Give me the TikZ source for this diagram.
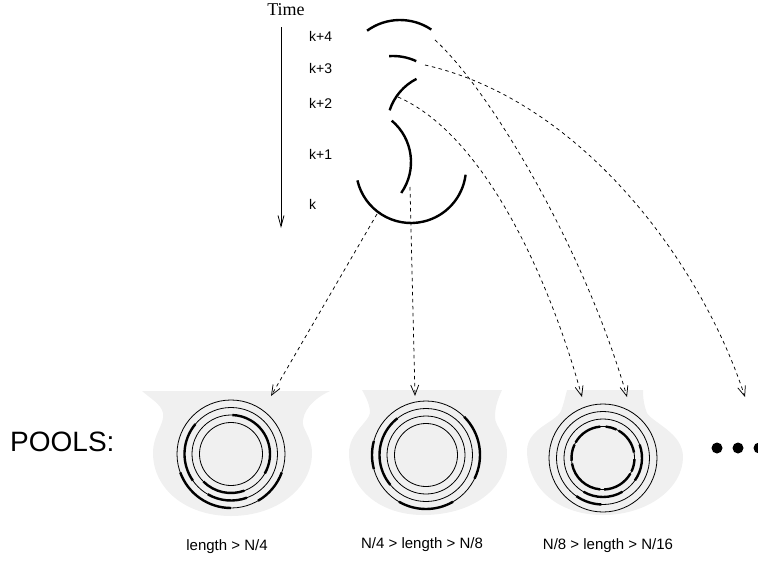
\documentclass[tikz,border=0pt]{standalone}
\usepackage{fontspec}
\setmainfont{Liberation Sans}
\newfontfamily\timesface{Liberation Serif}
\usetikzlibrary{arrows.meta}

\begin{document}
\begin{tikzpicture}[x=1pt, y=1pt,
    seg/.style={line width=2.4pt},
    ring/.style={line width=0.8pt},
    link/.style={dash pattern=on 3.5pt off 3.5pt, line width=0.75pt,
        -{Straight Barb[length=10pt,width=8pt]}},
    pool/.style={fill=black!6},
    klbl/.style={font=\fontsize{14}{16}\selectfont, anchor=base west, inner sep=0pt},
    rng/.style={font=\fontsize{15}{18}\selectfont, anchor=base}
]
    \useasboundingbox (0,0) rectangle (758,-560);

    % time axis
    \node[font=\timesface\fontsize{18}{20}\selectfont, anchor=base] (time) at (286,-15) {Time};
    \coordinate (ttop) at (281,-27);
    \coordinate (tbot) at (281,-228);
    \draw[line width=0.8pt, -{Straight Barb[length=11pt,width=6pt]}] (ttop) -- (tbot);

    \node[klbl] (l4) at (309,-41) {k+4};
    \node[klbl] (l3) at (309,-73) {k+3};
    \node[klbl] (l2) at (309,-108) {k+2};
    \node[klbl] (l1) at (309,-159) {k+1};
    \node[klbl] (l0) at (309,-209) {k};

    % arcs arriving over time
    \draw[seg] (400,-76) ++(56:56) arc[start angle=56, end angle=126, radius=56];
    \draw[seg] (393,-111) ++(65:55) arc[start angle=65, end angle=94, radius=55];
    \draw[seg] (441,-127) ++(117:54) arc[start angle=117, end angle=162, radius=54];
    \draw[seg] (357,-162) ++(-35:54) arc[start angle=-35, end angle=50, radius=54];
    \draw[seg] (411,-168) ++(193:55) arc[start angle=193, end angle=353, radius=55];

    % pool 1
    \begin{scope}[shift={(231,-454)}]
        \fill[pool] (-89,63) .. controls (-80,55) and (-70,50) .. (-68,41)
            .. controls (-66,30) and (-78,20) .. (-78,1)
            .. controls (-78,-35) and (-45,-62) .. (0,-62)
            .. controls (45,-62) and (81,-35) .. (81,1)
            .. controls (81,18) and (70,25) .. (72,34)
            .. controls (74,48) and (88,58) .. (99,63) -- cycle;
        \foreach \r in {54,46.5,39,31.5}
            \draw[ring] (0,0) circle (\r);
        \foreach \a/\b/\r in {200/270/54, 300/340/54, 140/215/46.5, 240/290/46.5,
                              -30/88/39, 225/290/39}
            \draw[seg] (\a:\r) arc[start angle=\a, end angle=\b, radius=\r];
    \end{scope}
    \coordinate (in1) at (271,-396);

    % pool 2
    \begin{scope}[shift={(426,-455)}]
        \fill[pool] (-64,65) .. controls (-60,58) and (-56,50) .. (-56,42)
            .. controls (-58,32) and (-77,22) .. (-77,2)
            .. controls (-77,-35) and (-45,-60) .. (-3,-60)
            .. controls (45,-60) and (81,-35) .. (81,2)
            .. controls (81,20) and (69,28) .. (69,38)
            .. controls (69,50) and (73,58) .. (76,65) -- cycle;
        \foreach \r in {54,46.5,39,31.5}
            \draw[ring] (0,0) circle (\r);
        \foreach \a/\b/\r in {165/195/54, -26/45/54, 240/300/54, 128/220/46.5}
            \draw[seg] (\a:\r) arc[start angle=\a, end angle=\b, radius=\r];
    \end{scope}
    \coordinate (in2) at (415,-396);

    % pool 3
    \begin{scope}[shift={(603,-458)}]
        \fill[pool] (-36,68) .. controls (-38,60) and (-40,52) .. (-42,47)
            .. controls (-48,35) and (-75,30) .. (-76,8)
            .. controls (-76,-30) and (-45,-57) .. (0,-57)
            .. controls (45,-57) and (80,-30) .. (80,1)
            .. controls (80,25) and (50,35) .. (44,45)
            .. controls (41,52) and (40,60) .. (40,68) -- cycle;
        \foreach \r in {54,46.5,39,31.5}
            \draw[ring] (0,0) circle (\r);
        \foreach \a/\b/\r in {10/60/31.5, 65/85/31.5, 95/150/31.5, 155/185/31.5,
                              190/265/31.5, 272/330/31.5, 335/358/31.5,
                              -35/20/39, 240/300/39, 235/268/46.5}
            \draw[seg] (\a:\r) arc[start angle=\a, end angle=\b, radius=\r];
    \end{scope}
    \coordinate (in3a) at (582,-397);
    \coordinate (in3b) at (627,-397);
    \coordinate (in4) at (745,-397);

    % where each arc is sent
    \coordinate (s0) at (377,-214);
    \coordinate (s1) at (410,-187);
    \coordinate (s2) at (398,-97);
    \coordinate (s3) at (425,-65);
    \coordinate (s4) at (435,-40);
    \draw[link] (s0) -- (in1);
    \draw[link] (s1) -- (in2);
    \draw[link] (s2) .. controls (485,-135) and (550,-280) .. (in3a);
    \draw[link] (s4) .. controls (490,-90) and (585,-250) .. (in3b);
    \draw[link] (s3) .. controls (580,-100) and (700,-260) .. (in4);

    \node[font=\fontsize{28}{32}\selectfont, anchor=base west, inner sep=0pt] (pools) at (10,-451) {POOLS:};
    \foreach \x in {717,738,759}
        \fill (\x,-448) circle (5.5);

    \node[rng] (r1) at (227,-550) {length > N/4};
    \node[rng] (r2) at (422,-548) {N/4 > length > N/8};
    \node[rng] (r3) at (608,-549) {N/8 > length > N/16};
\end{tikzpicture}
\end{document}
